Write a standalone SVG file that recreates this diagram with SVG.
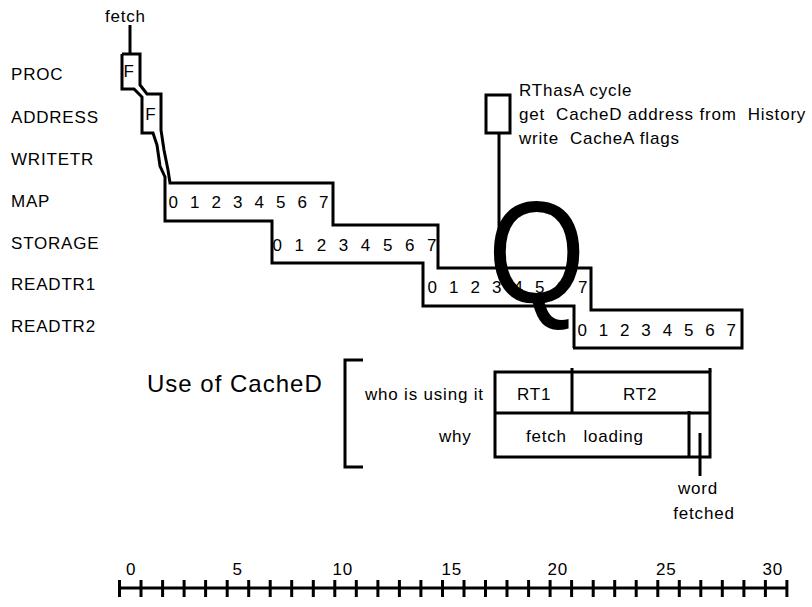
<svg xmlns="http://www.w3.org/2000/svg" width="812" height="607" viewBox="0 0 812 607">
<style>
text { font-family: "Liberation Sans", Arial, sans-serif; font-size: 17px; fill: #000; letter-spacing: 0.8px; }
.ln { fill: none; stroke: #000; stroke-width: 3; stroke-linejoin: miter; stroke-linecap: butt; }
.dig { letter-spacing: 0px; }
.big { font-size: 24px; letter-spacing: 1px; }
.q { font-size: 136px; letter-spacing: 0px; }
</style>
<rect width="812" height="607" fill="#fff"/>

<g id="row-labels">
  <text x="11" y="80">PROC</text>
  <text x="11" y="123">ADDRESS</text>
  <text x="11" y="165">WRITETR</text>
  <text x="11" y="207">MAP</text>
  <text x="11" y="249">STORAGE</text>
  <text x="11" y="290">READTR1</text>
  <text x="11" y="332">READTR2</text>
</g>

<g id="fetch">
  <text x="105" y="21.5">fetch</text>
  <path class="ln" d="M130,25 V54"/>
</g>

<g id="pipeline">
  <path class="ln" d="M122,54 H140 V85 L147,94 H161 V130 L164,150 L168,170 L170,183 H333 V225 H438 V268 H591 V310 H742 V348 H573"/>
  <path class="ln" d="M122,54 V89 H134 L142,97 V133 H153 L157,145 L160,166 L165,177 V221 H272 V263 H423 V306 H574 V348"/>
  <text x="123.5" y="77">F</text>
  <text x="145.3" y="120">F</text>
  <text class="dig" x="168.5" y="207.5" textLength="160" lengthAdjust="spacing">0 1 2 3 4 5 6 7</text>
  <text class="dig" x="272.5" y="251" textLength="164" lengthAdjust="spacing">0 1 2 3 4 5 6 7</text>
  <text class="dig" x="427.5" y="293.3" textLength="160" lengthAdjust="spacing">0 1 2 3 4 5 6 7</text>
  <text class="dig" x="577.5" y="335.7" textLength="158.5" lengthAdjust="spacing">0 1 2 3 4 5 6 7</text>
</g>

<g id="rthasa">
  <rect class="ln" x="486" y="95" width="24" height="38"/>
  <path class="ln" d="M499,133 V268"/>
  <text x="519" y="96">RThasA cycle</text>
  <text x="519" y="120" xml:space="preserve">get  CacheD address from  History</text>
  <text x="519" y="144" xml:space="preserve">write  CacheA flags</text>
  <text class="q" transform="translate(488,303) scale(0.92,1.07)" x="0" y="0">Q</text>
</g>

<g id="cached">
  <text class="big" x="147" y="392">Use of CacheD</text>
  <path class="ln" d="M363,360 H345 V467 H363"/>
  <rect class="ln" x="495" y="372" width="215" height="85"/>
  <path class="ln" d="M495,413 H710 M572,368 V413 M710,368 V372 M689,411 V457 M700,433 V476"/>
  <text x="365" y="400">who is using it</text>
  <text x="517" y="400">RT1</text>
  <text x="623" y="400">RT2</text>
  <text x="439" y="442">why</text>
  <text x="526" y="442" xml:space="preserve">fetch   loading</text>
  <text x="698" y="494" text-anchor="middle">word</text>
  <text x="704" y="519" text-anchor="middle">fetched</text>
</g>

<g id="axis">
  <path class="ln" d="M119.5,588 H787"/>
  <path class="ln" d="M119.5,580V597M141,580V597M162.6,580V597M184.1,580V597M205.6,580V597M227.2,580V597M248.7,580V597M270.2,580V597M291.7,580V597M313.3,580V597M334.8,580V597M356.3,580V597M377.9,580V597M399.4,580V597M420.9,580V597M442.5,580V597M464,580V597M485.5,580V597M507,580V597M528.6,580V597M550.1,580V597M571.6,580V597M593.2,580V597M614.7,580V597M636.2,580V597M657.8,580V597M679.3,580V597M700.8,580V597M722.3,580V597M743.9,580V597M765.4,580V597M786.9,580V597"/>
  <text x="126" y="575">0</text>
  <text x="232.5" y="575">5</text>
  <text x="332.5" y="575">10</text>
  <text x="441.5" y="575">15</text>
  <text x="547.5" y="575">20</text>
  <text x="656" y="575">25</text>
  <text x="762.5" y="575">30</text>
</g>
</svg>
